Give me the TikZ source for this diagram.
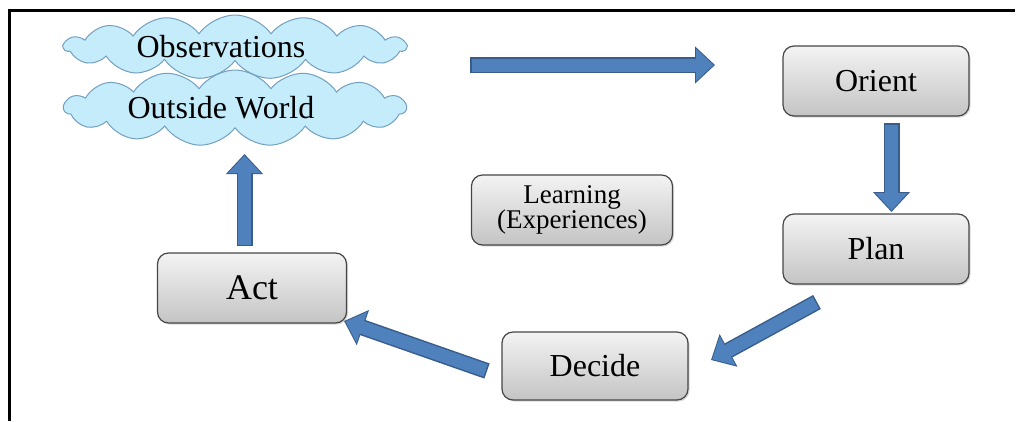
\documentclass[tikz,border=0pt]{standalone}
\usepackage{fontspec}
\setmainfont{Liberation Serif}
\usetikzlibrary{shapes.symbols, shadows, arrows.meta}

\definecolor{bleuFleche}{RGB}{79,129,189}
\definecolor{bordFleche}{RGB}{56,93,138}
\definecolor{nuageFond}{RGB}{196,236,251}
\definecolor{nuageBord}{RGB}{115,160,192}
\definecolor{boiteHaut}{RGB}{243,243,243}
\definecolor{boiteBas}{RGB}{196,196,196}
\definecolor{boiteBord}{RGB}{70,70,70}

\tikzset{
  boite/.style={draw=boiteBord, line width=1.2pt, rounded corners=11pt,
    top color=boiteHaut, bottom color=boiteBas,
    minimum width=186pt, minimum height=70pt, inner sep=0pt,
    font=\fontsize{32}{36}\selectfont,
    drop shadow={opacity=0.3, shadow xshift=1.5pt, shadow yshift=-1.5pt}},
  nuage/.style={cloud, cloud puffs=15, cloud puff arc=110, aspect=9,
    draw=nuageBord, line width=1pt, fill=nuageFond,
    minimum width=342pt, inner sep=0pt, font=\fontsize{32}{36}\selectfont},
  flecheBord/.style={draw=bordFleche, line width=16pt,
    -{Triangle[width=36pt,length=20pt]}},
  flecheCorps/.style={draw=bleuFleche, line width=13pt,
    -{Triangle[width=31.5pt,length=17.5pt]}, shorten >=1.5pt, shorten <=1.5pt},
}

\begin{document}
\begin{tikzpicture}[x=1pt, y=-1pt]
    \useasboundingbox (0,0) rectangle (1017,421);

    % Cadre
    \draw[line width=3pt] (9,421) -- (9,10) -- (1015,10);

    % Nuages
    \node[nuage, minimum height=64pt] (obs) at (235,47) {Observations\hspace*{28pt}};
    \node[nuage, minimum height=76pt] (monde) at (235,108) {Outside World\hspace*{28pt}};

    % Boites
    \node[boite] (orient) at (876,81) {Orient};
    \node[boite] (plan) at (876,249) {Plan};
    \node[boite, minimum height=68pt] (decide) at (595,366) {Decide};
    \node[boite, minimum width=189pt, font=\fontsize{36}{40}\selectfont] (act) at (252,288) {Act};
    \node[boite, minimum width=201pt, align=center,
          font=\fontsize{27}{25}\selectfont] (learning) at (572,210) {Learning\\(Experiences)};

    % Extremites des fleches
    \coordinate (mondeSortie) at (470,65);
    \coordinate (orientEntree) at (715,65);
    \coordinate (orientSortie) at (891.5,123);
    \coordinate (planEntree) at (891.5,212);
    \coordinate (planSortie) at (817,302);
    \coordinate (decideEntree) at (711,360);
    \coordinate (decideSortie) at (487,371);
    \coordinate (actEntree) at (344,321);
    \coordinate (actSortie) at (244.5,246);
    \coordinate (mondeEntree) at (244.5,154);

    % Fleches
    \foreach \a/\b in {mondeSortie/orientEntree, orientSortie/planEntree,
                       planSortie/decideEntree, decideSortie/actEntree,
                       actSortie/mondeEntree} {
        \draw[flecheBord] (\a) -- (\b);
        \draw[flecheCorps] (\a) -- (\b);
    }
\end{tikzpicture}
\end{document}
